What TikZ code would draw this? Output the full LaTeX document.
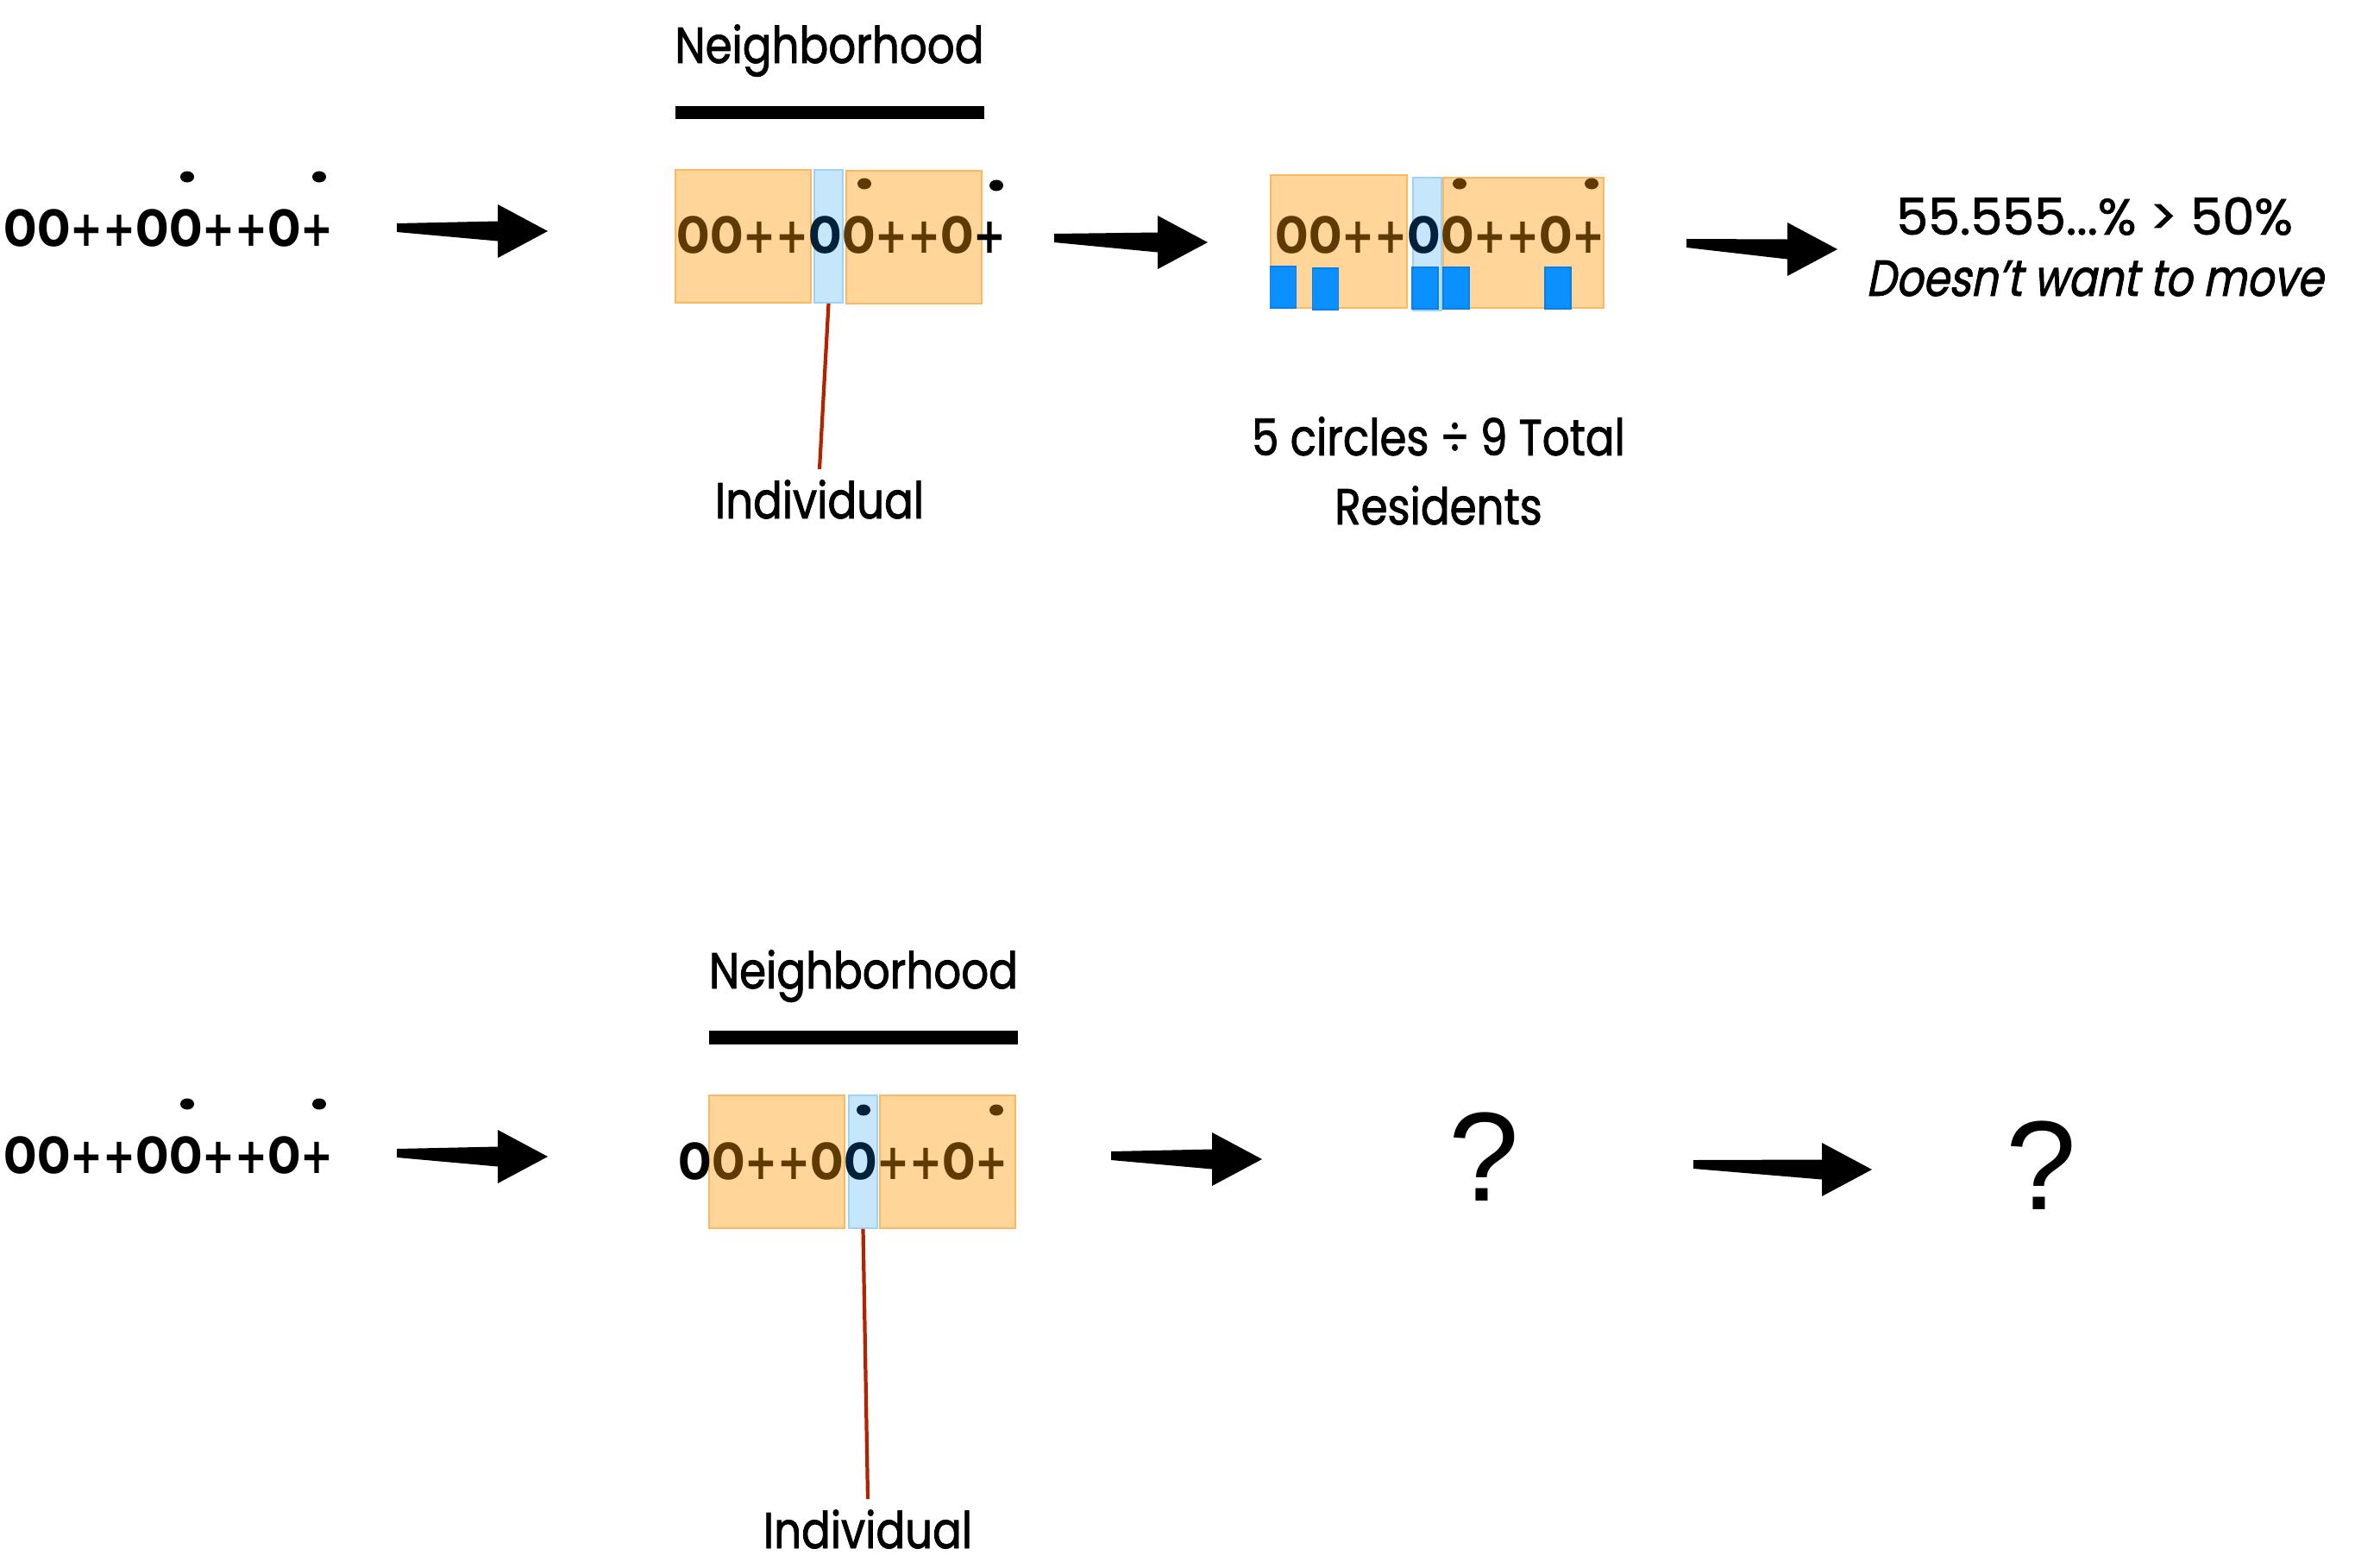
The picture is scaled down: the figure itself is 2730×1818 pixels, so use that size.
\documentclass[tikz,border=0pt]{standalone}
\usepackage{fontspec}
\setmainfont{Poppins}[FakeStretch=0.85,FakeBold=1.5,AutoFakeSlant=0.2]
\newfontfamily\pionfont{DejaVu Sans}[FakeStretch=0.785]
\newfontfamily\questfont{Liberation Sans}
\usetikzlibrary{calc}
\definecolor{orfond}{HTML}{FFD599}
\definecolor{orbord}{HTML}{FBB860}
\definecolor{blfond}{HTML}{C6E6FC}
\definecolor{blbord}{HTML}{9DD3F7}
\definecolor{brun}{HTML}{5E3A00}
\definecolor{marine}{HTML}{00213B}
\definecolor{vif}{HTML}{0A91FF}
\definecolor{vifbord}{HTML}{0A7FE6}
\definecolor{trait}{HTML}{B22300}
\begin{document}
\begin{tikzpicture}[x=0.01cm,y=-0.01cm]
\tikzset{zone/.style={draw=orbord, fill=orfond, line width=0.5pt, inner sep=0pt, minimum height=1.54cm},
  bande/.style={draw=blbord, fill=blfond, line width=0.5pt, inner sep=0pt, minimum width=0.33cm, minimum height=1.54cm},
  marque/.style={draw=vifbord, fill=vif, line width=0.4pt, inner sep=0pt, minimum width=0.3cm, minimum height=0.48cm},
  pions/.style={font=\pionfont\bfseries\fontsize{16.4}{20}\selectfont, anchor=base west, inner sep=0pt},
  titre/.style={font=\fontsize{16.7}{22.8}\selectfont, anchor=base},
  barre/.style={line width=4.3pt},
  rouge/.style={draw=trait, line width=1.2pt},
  quest/.style={font=\questfont\fontsize{41.8}{50}\selectfont, anchor=base, inner sep=0pt}}
\useasboundingbox (0,0) rectangle (2730,1818);
\node[pions] (S1) at (4,285) {OO++OO++O+};
\fill (217,205) ellipse (0.08cm and 0.065cm);
\fill (370,205) ellipse (0.08cm and 0.065cm);
\node[zone, minimum width=1.57cm] (Z1) at (861.5,274) {};
\node[bande] (B1) at (960.5,274) {};
\node[zone, minimum width=1.57cm] (Z2) at (1059.5,275) {};
\node[pions] (N1) at (784,293) {\textcolor{brun}{OO++}\textcolor{marine}{O}\textcolor{brun}{O++O}+};
\fill[brun] (1002,213) ellipse (0.08cm and 0.065cm);
\fill (1155,215) ellipse (0.08cm and 0.065cm);
\node[titre] (L1) at (961.5,73) {Neighborhood};
\draw[barre] (783,130.5) -- (1141,130.5);
\node[titre] (I1) at (950,601) {Individual};
\draw[rouge] (B1.south) -- (I1.north);
\node[zone, minimum width=1.58cm] (Z3) at (1552,280) {};
\node[bande] (B2) at (1654.5,283) {};
\node[zone, minimum width=1.86cm, minimum height=1.51cm] (Z4) at (1766,281.5) {};
\node[marque] (M1) at (1487.5,333) {};
\node[marque] (M2) at (1536.5,335) {};
\node[marque] (M3) at (1652,334) {};
\node[marque] (M4) at (1688,334) {};
\node[marque] (M5) at (1806,334) {};
\node[pions] (G0) at (1478,293) {\textcolor{brun}{OO++}\textcolor{marine}{O}\textcolor{brun}{O++O+}};
\fill[brun] (1692,213) ellipse (0.08cm and 0.065cm);
\fill[brun] (1845,213) ellipse (0.08cm and 0.065cm);
\node[titre, align=center] (R1) at (1667.5,608) {5 circles ÷ 9 Total\\Residents};
\node[titre, align=center, font=\fontsize{16.7}{20.2}\selectfont] (C1) at (2428,343) {{\addfontfeature{FakeStretch=1}55.555...\% > 50\%}\\{\addfontfeature{FakeStretch=0.83}\textit{Doesn’t want to move}}};
\node[pions] (S2) at (4,1360) {OO++OO++O+};
\fill (217,1280) ellipse (0.08cm and 0.065cm);
\fill (370,1280) ellipse (0.08cm and 0.065cm);
\node[zone, minimum width=1.57cm] (Z5) at (900.5,1347) {};
\node[bande] (B3) at (1000.5,1347) {};
\node[zone, minimum width=1.57cm] (Z6) at (1098.5,1347) {};
\node[pions] (N2) at (786,1367) {O\textcolor{brun}{O++O}\textcolor{marine}{O}\textcolor{brun}{++O+}};
\fill[marine] (1001,1287) ellipse (0.08cm and 0.065cm);
\fill[brun] (1155,1287) ellipse (0.08cm and 0.065cm);
\node[titre] (L2) at (1001,1146) {Neighborhood};
\draw[barre] (822,1203) -- (1180,1203);
\node[titre] (I2) at (1006,1795) {Individual};
\draw[rouge] (B3.south) -- (I2.north);
\node[quest] (Q1) at (1720,1392) {?};
\node[quest] (Q2) at (2366,1402) {?};
\coordinate (F1) at (460,264); \coordinate (H1) at (635,268);
\coordinate (F2) at (1222,276); \coordinate (H2) at (1400,281);
\coordinate (F3) at (1955,282); \coordinate (H3) at (2130,289);
\coordinate (F4) at (460,1337); \coordinate (H4) at (635,1341);
\coordinate (F5) at (1288,1340); \coordinate (H5) at (1463,1344);
\coordinate (F6) at (1963,1350); \coordinate (H6) at (2170,1356);
\foreach \a/\b in {F1/H1,F2/H2,F3/H3,F4/H4,F5/H5,F6/H6}
  \fill ($(\a)+(0,-5)$) -- ($(\b)+(-58,-11.5)$) -- ($(\b)+(-58,-31)$) -- (\b) -- ($(\b)+(-58,31)$) -- ($(\b)+(-58,11.5)$) -- ($(\a)+(0,5)$) -- cycle;
\end{tikzpicture}
\end{document}
